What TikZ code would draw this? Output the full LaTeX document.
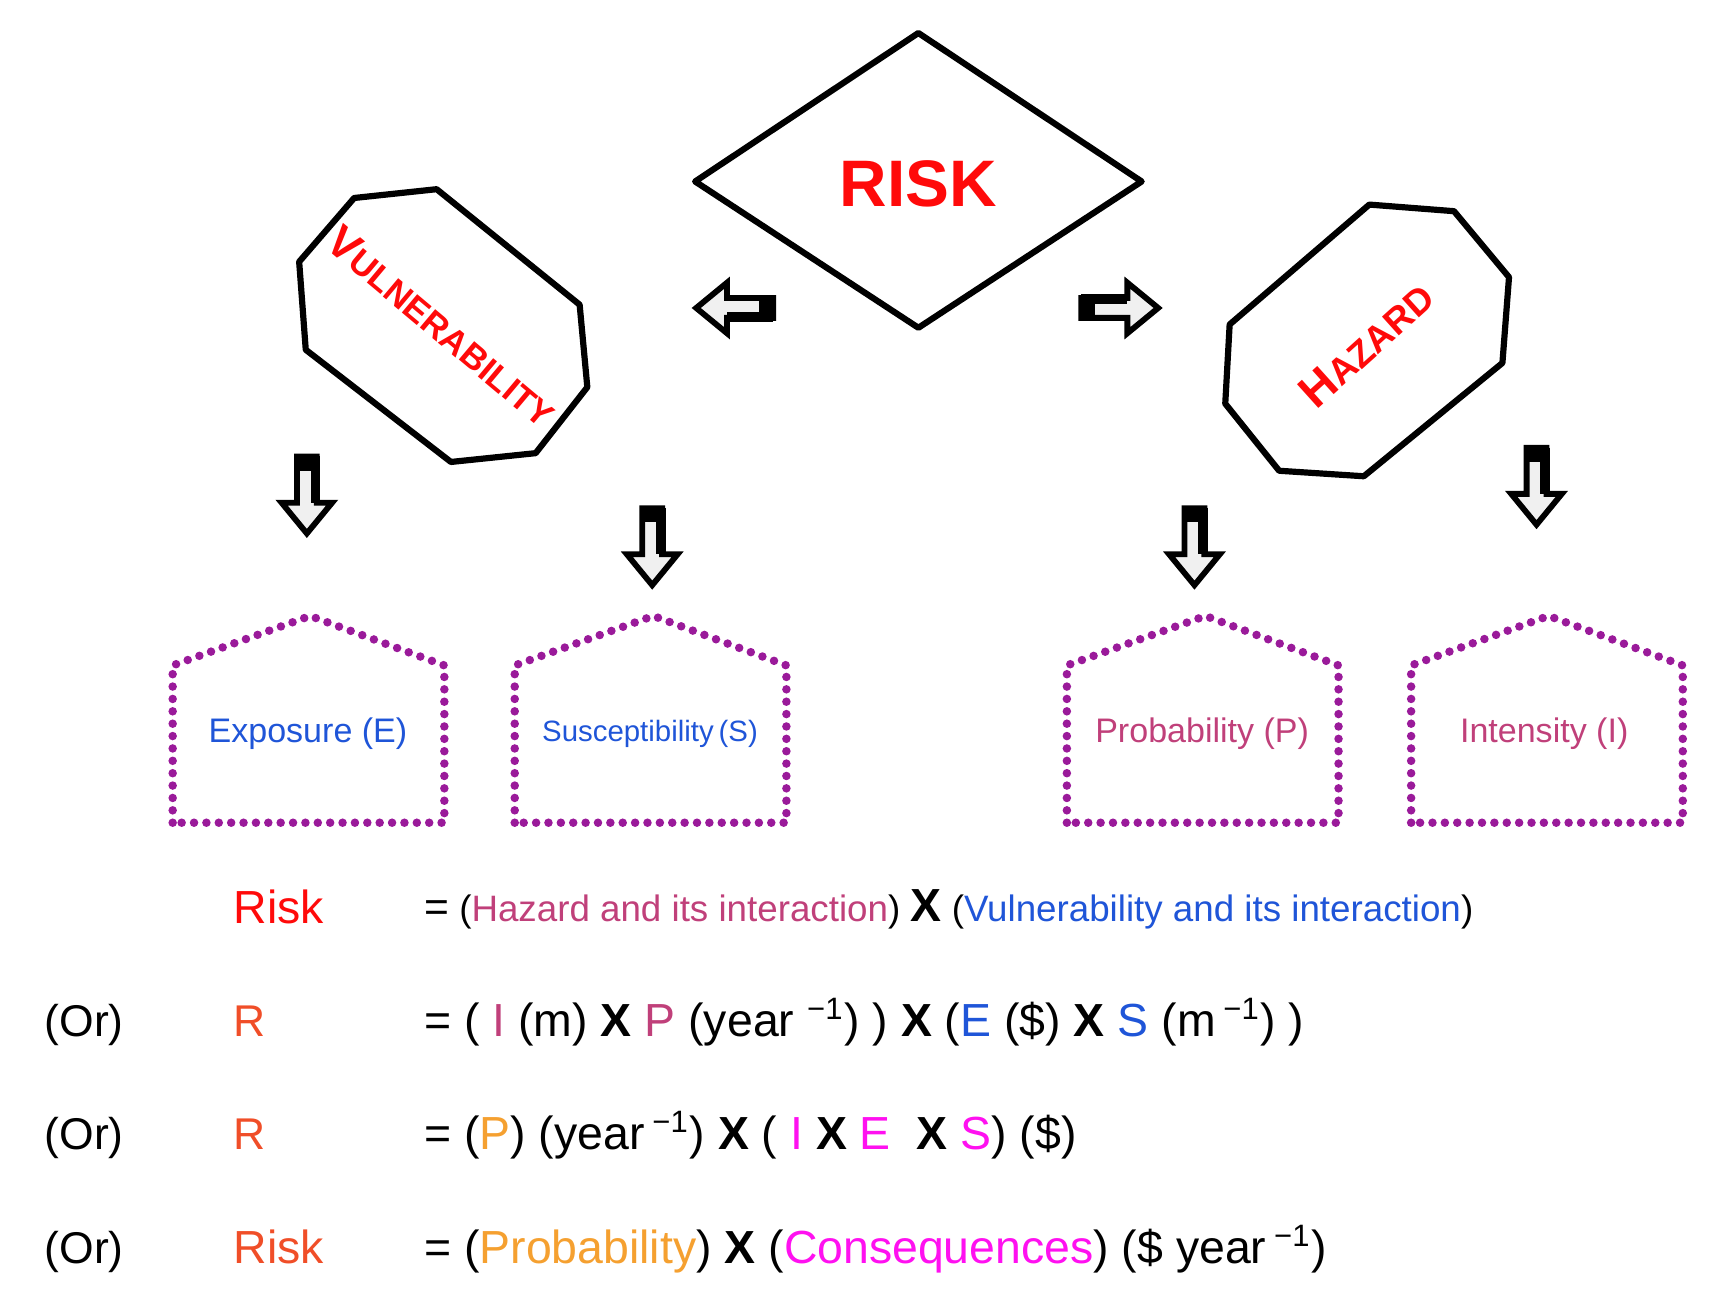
\documentclass[tikz,border=0pt]{standalone}
\usepackage{fontspec}
\setmainfont{Liberation Sans}
\begin{document}
\definecolor{rred}{HTML}{FF0A0A}
\definecolor{ror}{HTML}{F04E28}
\definecolor{hz}{HTML}{C0407A}
\definecolor{vb}{HTML}{1F55D8}
\definecolor{og}{HTML}{F5A030}
\definecolor{mg}{HTML}{FF10F0}
\definecolor{pu}{HTML}{9A1A9A}
\newcommand{\sps}[1]{\textsuperscript{#1}}
\begin{tikzpicture}[x=0.01cm,y=-0.01cm,
  shp/.style={draw=black,line width=1.6pt,line join=round},
  pent/.style={draw=pu,line width=2.2pt,dash pattern=on 0pt off 3.2pt,line cap=round},
  eq/.style={anchor=base west,inner sep=0pt},
  darr/.pic={
    \draw[fill=gray!12,line width=1.5pt,line join=miter] (-9,0)--(9,0)--(9,42)--(23,42)--(0,70)--(-23,42)--(-9,42)--cycle;
    \fill (-9,0) rectangle (9,13);
    \draw[line width=2.5pt] (8,0)--(8,42);
  }]
\useasboundingbox (0,0) rectangle (1562,1190);
% RISK
\draw[shp] (835,30)--(1038,165)--(835,298)--(632,165)--cycle;
\node[text=rred,font=\fontsize{17}{17}\selectfont\bfseries] (risk) at (835,167) {RISK};
% Vulnerability
\draw[shp] (322,180)--(397,172)--(527,277)--(534,352)--(487,412)--(410,420)--(278,318)--(272,238)--cycle;
\node[text=rred,rotate=-40,font=\bfseries,inner sep=0pt] (vul) at (402,297)
  {\fontsize{11.5}{12}\selectfont V\fontsize{9}{12}\selectfont ULNERABILITY};
% Hazard
\draw[shp] (1245,186)--(1322,192)--(1372,252)--(1366,330)--(1240,433)--(1163,428)--(1114,367)--(1118,295)--cycle;
\node[text=rred,rotate=42,font=\bfseries,inner sep=0pt] (haz) at (1242,313)
  {\fontsize{12}{12}\selectfont H\fontsize{9.5}{12}\selectfont AZARD};
% arrows
\pic[rotate=-90] at (703,280) {darr};
\pic[rotate=90] at (983,280) {darr};
\pic at (279,415) {darr};
\pic at (593,462) {darr};
\pic at (1086,462) {darr};
\pic at (1397,407) {darr};
% pentagons
\foreach \l/\a in {157/282,468/594,970/1096,1283/1408}{
  \draw[pent] (\l,748)--(\l,605)--(\a,560)--(\l+247,605)--(\l+247,748)--cycle;}
\node[text=vb,font=\fontsize{8.8}{9}\selectfont] (E) at (280,667) {Exposure (E)};
\node[text=vb,font=\fontsize{7.6}{9}\selectfont] (S) at (591,667) {Susceptibility\,(S)};
\node[text=hz,font=\fontsize{8.8}{9}\selectfont] (P) at (1093,667) {Probability (P)};
\node[text=hz,font=\fontsize{8.8}{9}\selectfont] (I) at (1404,667) {Intensity (I)};
% equations
\node[eq,text=rred,font=\fontsize{12}{12}\selectfont] (r1) at (212,840) {Risk};
\node[eq,font=\fontsize{9.5}{9}\selectfont] (e1) at (385,838) {{\fontsize{11}{11}\selectfont=} (\textcolor{hz}{Hazard and its interaction}) {\fontsize{12}{12}\selectfont\bfseries X} (\textcolor{vb}{Vulnerability and its interaction})};
\foreach \y/\n in {942/o2,1045/o3,1149/o4}
  \node[eq,font=\fontsize{11.5}{12}\selectfont] (\n) at (40,\y) {(Or)};
\node[eq,text=ror,font=\fontsize{11.5}{12}\selectfont] (r2) at (212,942) {R};
\node[eq,text=ror,font=\fontsize{11.5}{12}\selectfont] (r3) at (212,1045) {R};
\node[eq,text=ror,font=\fontsize{12}{12}\selectfont] (r4) at (212,1149) {Risk};
\node[eq,font=\fontsize{12}{12}\selectfont] (e2) at (385,942) {= ( \textcolor{hz}{I} (m) \textbf{X} \textcolor{hz}{P} (year \sps{−1}) ) \textbf{X} (\textcolor{vb}{E} (\$) \textbf{X} \textcolor{vb}{S} (m\,\sps{−1}) )};
\node[eq,font=\fontsize{12}{12}\selectfont] (e3) at (385,1045) {= (\textcolor{og}{P}) (year\,\sps{−1}) \textbf{X} ( \textcolor{mg}{I} \textbf{X} \textcolor{mg}{E}\ \ \textbf{X} \textcolor{mg}{S}) (\$)};
\node[eq,font=\fontsize{12}{12}\selectfont] (e4) at (385,1149) {= (\textcolor{og}{Probability}) \textbf{X} (\textcolor{mg}{Consequences}) (\$ year\,\sps{−1})};
\end{tikzpicture}
\end{document}
